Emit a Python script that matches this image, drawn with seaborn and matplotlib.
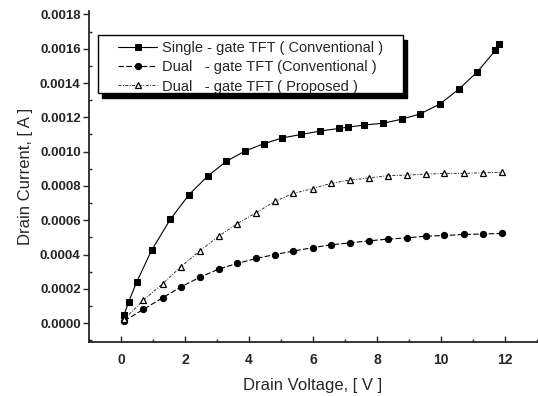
import matplotlib
matplotlib.use("Agg")
import matplotlib.pyplot as plt
import seaborn as sns
import pandas as pd
from matplotlib.ticker import FormatStrFormatter, MultipleLocator
from matplotlib.patches import Rectangle

single_x = [0.1, 0.24, 0.49, 0.96, 1.54, 2.13, 2.72, 3.29, 3.87, 4.46, 5.04, 5.63, 6.22,
            6.81, 7.1, 7.6, 8.2, 8.79, 9.35, 9.96, 10.55, 11.13, 11.7, 11.82]
single_y = [0.00005, 0.000124, 0.00024, 0.000426, 0.000605, 0.00075, 0.000859, 0.000943,
            0.001003, 0.001046, 0.00108, 0.0011, 0.00112, 0.001135, 0.001143, 0.001155,
            0.001166, 0.00119, 0.00122, 0.001277, 0.001363, 0.001464, 0.00159, 0.001625]

dual_x = [0.1, 0.7, 1.3, 1.86, 2.47, 3.05, 3.63, 4.23, 4.81, 5.38, 5.99, 6.57, 7.16, 7.76,
          8.35, 8.93, 9.52, 10.1, 10.72, 11.32, 11.92]
dual_conv_y = [0.000013, 0.00008, 0.000148, 0.00021, 0.000268, 0.000315, 0.000348, 0.000377,
               0.0004, 0.00042, 0.00044, 0.000457, 0.000468, 0.00048, 0.00049, 0.000497,
               0.000507, 0.000511, 0.000517, 0.00052, 0.000523]
proposed_y = [0.000023, 0.000134, 0.000229, 0.000327, 0.000422, 0.000507, 0.00058, 0.000645,
              0.00071, 0.000756, 0.000785, 0.000815, 0.000834, 0.000847, 0.00086, 0.000863,
              0.000869, 0.000873, 0.000873, 0.000877, 0.000879]

labels = ["Single - gate TFT ( Conventional )",
          "Dual   - gate TFT (Conventional )",
          "Dual   - gate TFT ( Proposed )"]

sns.set_style("ticks")
plt.rcParams['font.family'] = ['Liberation Sans', 'DejaVu Sans']

W, H = 538, 396
fig = plt.figure(figsize=(W/100, H/100), dpi=100)
ax = fig.add_axes([89/W, (H-342)/H, 448/W, 331/H])

df1 = pd.DataFrame({"x": single_x, "y": single_y})
df2 = pd.DataFrame({"x": dual_x, "y": dual_conv_y})
df3 = pd.DataFrame({"x": dual_x, "y": proposed_y})

sns.lineplot(data=df1, x="x", y="y", ax=ax, sort=False, color="black", linewidth=0.8,
             linestyle="-", marker="s", markersize=4.5, markeredgecolor="black",
             markerfacecolor="black", label=labels[0])
sns.lineplot(data=df2, x="x", y="y", ax=ax, sort=False, color="black", linewidth=0.8,
             linestyle=(0, (5, 2)), marker="o", markersize=4.5, markeredgecolor="black",
             markerfacecolor="black", label=labels[1])
sns.lineplot(data=df3, x="x", y="y", ax=ax, sort=False, color="#333333", linewidth=0.7,
             linestyle=(0, (3, 1.5, 1, 1.5)), marker="^", markersize=5, markeredgecolor="black",
             markerfacecolor="white", markeredgewidth=0.9, label=labels[2])

ax.set_xlim(-1, 13)
ax.set_ylim(-0.00011, 0.00182)
ax.xaxis.set_minor_locator(MultipleLocator(1))
ax.yaxis.set_minor_locator(MultipleLocator(0.0001))
ax.set_yticks([0, 0.0002, 0.0004, 0.0006, 0.0008, 0.0010, 0.0012, 0.0014, 0.0016, 0.0018])
ax.set_xticks([0, 2, 4, 6, 8, 10, 12])
ax.yaxis.set_major_formatter(FormatStrFormatter('%.4f'))

ax.tick_params(axis='x', which='major', direction='in', length=4, width=1, labelsize=10, pad=8)
ax.tick_params(axis='x', which='minor', direction='in', length=2.5, width=1)
ax.tick_params(axis='y', which='major', direction='out', length=4, width=1, labelsize=9.5, pad=2)
ax.tick_params(axis='y', which='minor', direction='in', length=2.5, width=1)
for lab in ax.get_xticklabels() + ax.get_yticklabels():
    lab.set_fontweight('bold')

sns.despine(ax=ax, top=True, right=True)
ax.spines['left'].set_linewidth(1.3)
ax.spines['bottom'].set_linewidth(1.3)

ax.set_xlabel("Drain Voltage, [ V ]", fontsize=12, labelpad=8)
ax.set_ylabel("Drain Current, [ A ]", fontsize=12, labelpad=5)

# legend box with hard shadow
bx0, by0, bx1, by1 = 98, 35, 403, 93
shadow = Rectangle(((bx0 + 4)/W, (H - by1 - 5)/H), (bx1 - bx0)/W, (by1 - by0)/H,
                   transform=fig.transFigure, facecolor='black', edgecolor='black',
                   zorder=5)
frame = Rectangle((bx0/W, (H - by1)/H), (bx1 - bx0)/W, (by1 - by0)/H,
                  transform=fig.transFigure, facecolor='white', edgecolor='black',
                  linewidth=1.0, zorder=6)
fig.add_artist(shadow)
fig.add_artist(frame)

leg = ax.legend(loc='upper left', bbox_to_anchor=(118/W, 1 - 41/H),
                bbox_transform=fig.transFigure, borderaxespad=0, borderpad=0,
                fontsize=10.5, frameon=False, handlelength=2.7, handletextpad=0.35,
                labelspacing=0.36)
leg.set_zorder(7)
leg.remove()
fig.add_artist(leg)

fig.savefig("out.png", dpi=100)
